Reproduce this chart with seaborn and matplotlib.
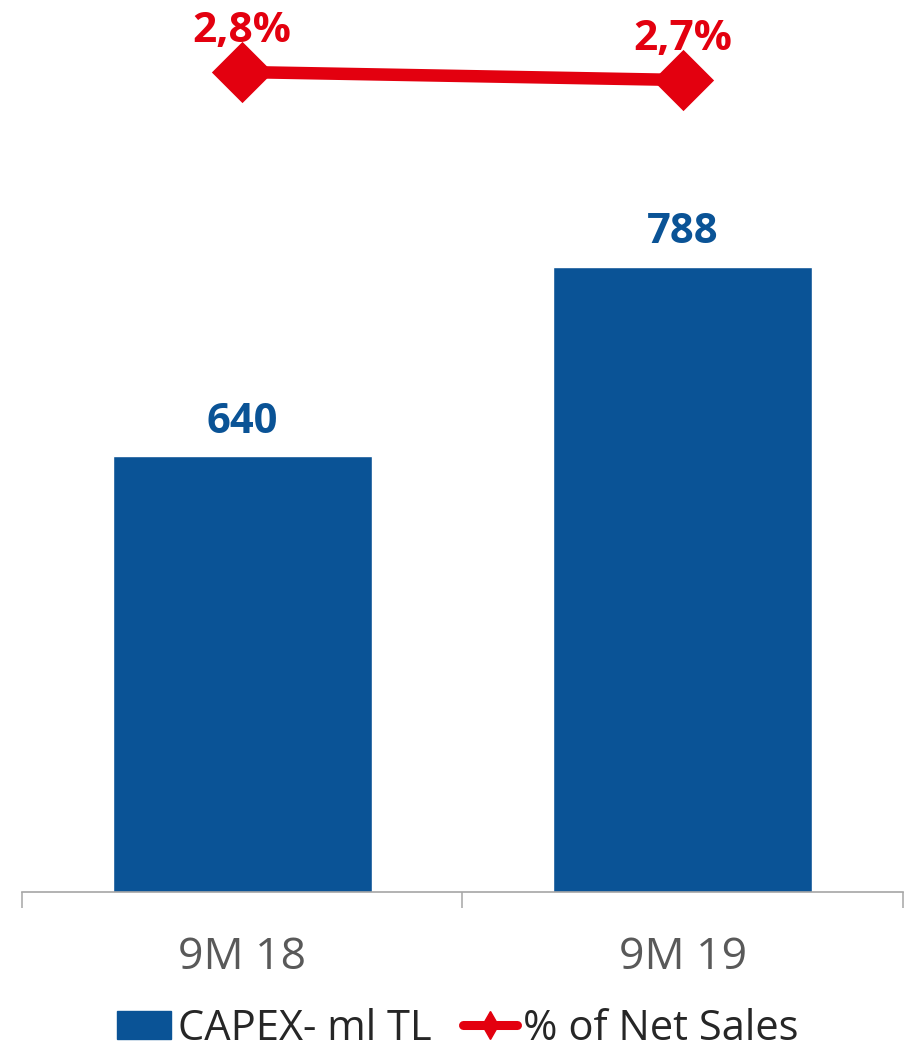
import numpy as np
import pandas as pd
import matplotlib
matplotlib.use("Agg")
import matplotlib.pyplot as plt
import seaborn as sns
from matplotlib.patches import Patch
from matplotlib.lines import Line2D

categories = ["9M 18", "9M 19"]
capex = [640, 788]
pct_net_sales = [2.8, 2.7]
capex_labels = ["640", "788"]
pct_labels = ["2,8%", "2,7%"]
legend_labels = ["CAPEX- ml TL", "% of Net Sales"]

BLUE = "#0A5396"
RED = "#E3000F"
GRAY_TXT = "#595959"
GRAY_AX = "#A6A6A6"

sns.set_theme(style="white")
plt.rcParams["font.family"] = ["Open Sans", "DejaVu Sans"]

fig = plt.figure(figsize=(9.12, 10.49), dpi=100)
ax = fig.add_axes([22 / 912, 157 / 1049, 881 / 912, 892 / 1049])

df = pd.DataFrame({"cat": categories, "capex": capex, "pct": pct_net_sales})
sns.barplot(data=df, x="cat", y="capex", color=BLUE, saturation=1,
            width=0.587, ax=ax, errorbar=None)
ax.set_xlim(-0.5, len(categories) - 0.5)
ax.set_ylim(300, 996)

for i, (v, lab) in enumerate(zip(capex, capex_labels)):
    ax.annotate(lab, (i, v), xytext=(0, 17), textcoords="offset points",
                ha="center", va="baseline", fontsize=30, fontweight="bold",
                color=BLUE)

for s in ["top", "left", "right"]:
    ax.spines[s].set_visible(False)
ax.spines["bottom"].set_color(GRAY_AX)
ax.spines["bottom"].set_linewidth(1.2)
ax.set_yticks([])
ax.set_xlabel("")
ax.set_ylabel("")
ax.set_xticks(range(len(categories)))
ax.set_xticklabels(categories)
ax.set_xticks(np.arange(-0.5, len(categories)), minor=True)
ax.tick_params(axis="x", which="major", length=0, pad=31, labelsize=32,
               labelcolor=GRAY_TXT)
ax.tick_params(axis="x", which="minor", length=11.5, width=1.1,
               color=GRAY_AX, bottom=True, direction="out")

ax2 = ax.twinx()
sns.pointplot(data=df, x="cat", y="pct", color=RED, markers="D",
              markersize=24, linewidth=9, errorbar=None, ax=ax2)
ax2.set_ylim(-7.45, 3.7)
ax2.set_xlim(-0.5, len(categories) - 0.5)
ax2.set_yticks([])
ax2.set_ylabel("")
for s in ["top", "left", "right", "bottom"]:
    ax2.spines[s].set_visible(False)

for i, (v, lab) in enumerate(zip(pct_net_sales, pct_labels)):
    ax2.annotate(lab, (i, v), xytext=(0, 21.6), textcoords="offset points",
                 ha="center", va="baseline", fontsize=30.5, fontweight="bold",
                 color=RED)

handles = [
    Patch(facecolor=BLUE, edgecolor=BLUE),
    Line2D([], [], color=RED, lw=6.5, marker="d", markersize=14,
           solid_capstyle="round"),
]
fig.legend(handles, legend_labels, loc="center",
           bbox_to_anchor=(0.502, 0.0195), ncol=2, frameon=False,
           fontsize=30, handlelength=1.3, handleheight=0.65,
           handletextpad=0.15, columnspacing=0.75, borderpad=0,
           borderaxespad=0)

fig.savefig("out.png", dpi=100)
